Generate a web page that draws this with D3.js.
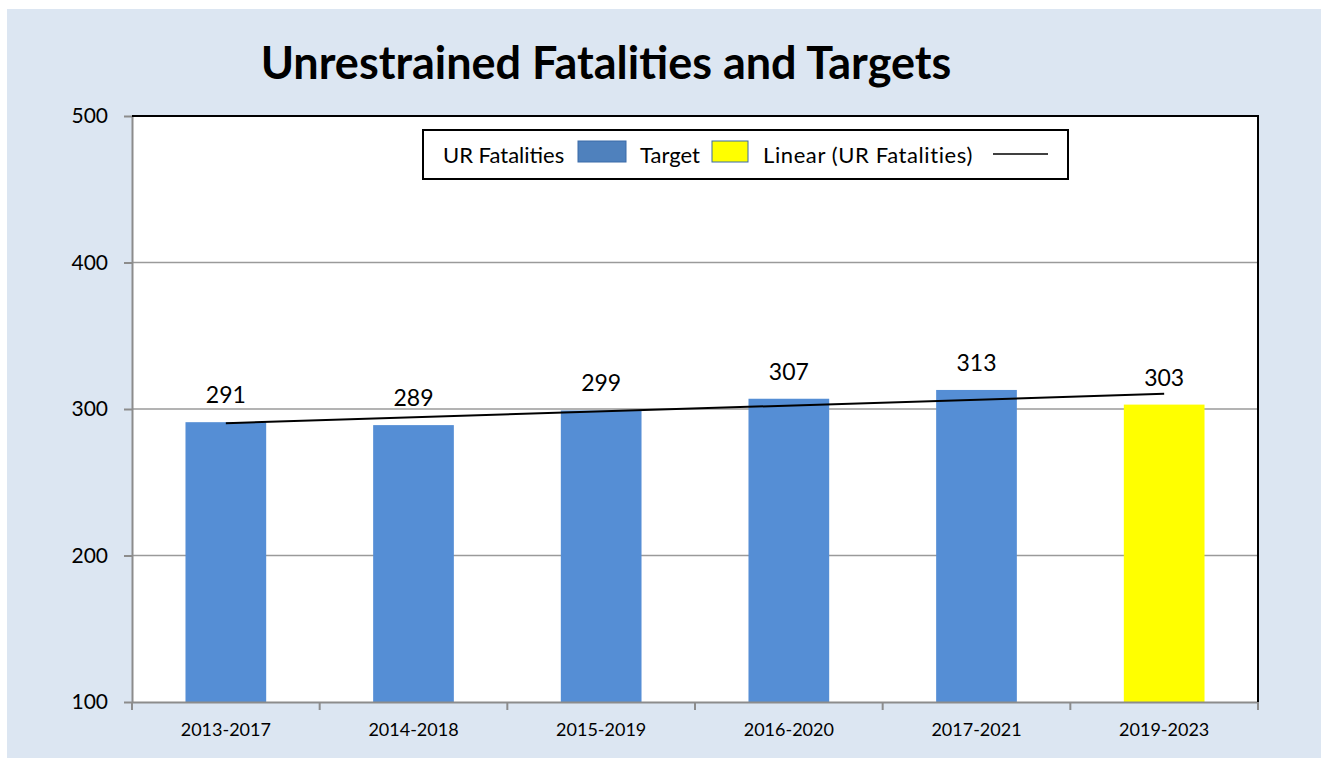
<!DOCTYPE html>
<html>
<head>
<meta charset="utf-8">
<script src="https://cdn.jsdelivr.net/npm/d3@7"></script>
<style>
  body { margin: 0; background: #fff; }
  text { font-family: Lato, "Open Sans", sans-serif; fill: #000; }
</style>
</head>
<body>
<div id="chart"></div>
<script>
const periods = ["2013-2017", "2014-2018", "2015-2019", "2016-2020", "2017-2021", "2019-2023"];
const values = [291, 289, 299, 307, 313, 303];
const kinds = ["UR Fatalities", "UR Fatalities", "UR Fatalities", "UR Fatalities", "UR Fatalities", "Target"];
const y_ticks = [100, 200, 300, 400, 500];

const width = 1321, height = 758;
const plot = { left: 132, top: 116, right: 1258, bottom: 702 };

const svg = d3.select("#chart").append("svg")
  .attr("width", width)
  .attr("height", height);

svg.append("rect")
  .attr("x", 7).attr("y", 9)
  .attr("width", width - 7).attr("height", height - 9)
  .attr("fill", "#dce6f2");

svg.append("text")
  .attr("x", 606).attr("y", 79)
  .attr("text-anchor", "middle")
  .style("font-size", "45px")
  .style("font-weight", "bold")
  .text("Unrestrained Fatalities and Targets");

const x = d3.scaleBand()
  .domain(periods)
  .range([plot.left, plot.right])
  .paddingInner(0.57)
  .paddingOuter(0.285);

const y = d3.scaleLinear()
  .domain([100, 500])
  .range([plot.bottom, plot.top]);

svg.append("rect")
  .attr("x", plot.left).attr("y", plot.top)
  .attr("width", plot.right - plot.left).attr("height", plot.bottom - plot.top)
  .attr("fill", "#fff");

// gridlines
svg.append("g")
  .selectAll("line")
  .data(y_ticks.slice(1, -1))
  .join("line")
  .attr("x1", plot.left).attr("x2", plot.right)
  .attr("y1", d => y(d)).attr("y2", d => y(d))
  .attr("stroke", "#9a9a9a")
  .attr("stroke-width", 1.5);

// bars
svg.append("g")
  .selectAll("rect")
  .data(periods)
  .join("rect")
  .attr("x", d => x(d))
  .attr("width", x.bandwidth())
  .attr("y", (d, i) => y(values[i]))
  .attr("height", (d, i) => y(100) - y(values[i]))
  .attr("fill", (d, i) => kinds[i] == "Target" ? "#ffff00" : "#558ed5");

// value labels
svg.append("g")
  .selectAll("text")
  .data(periods)
  .join("text")
  .attr("x", d => x(d) + x.bandwidth() / 2)
  .attr("y", (d, i) => y(values[i]) - 19)
  .attr("text-anchor", "middle")
  .style("font-size", "23px")
  .text((d, i) => values[i]);

// linear trend through all points
const n = values.length;
const mx = d3.mean(d3.range(n)), my = d3.mean(values);
const slope = d3.sum(values, (v, i) => (i - mx) * (v - my)) / d3.sum(d3.range(n), i => (i - mx) * (i - mx));
const icpt = my - slope * mx;
const cx = i => x(periods[i]) + x.bandwidth() / 2;
svg.append("line")
  .attr("x1", cx(0)).attr("y1", y(icpt))
  .attr("x2", cx(n - 1)).attr("y2", y(icpt + slope * (n - 1)))
  .attr("stroke", "#000")
  .attr("stroke-width", 2);

// axes
const yAxis = svg.append("g")
  .attr("transform", `translate(${plot.left},0)`)
  .call(d3.axisLeft(y).tickValues(y_ticks).tickSize(8).tickPadding(16).tickSizeOuter(0));
yAxis.select(".domain").attr("stroke", "#8c8c8c").attr("stroke-width", 2);
yAxis.selectAll(".tick line").attr("stroke", "#8c8c8c").attr("stroke-width", 2);
yAxis.selectAll("text").style("font-size", "21px").attr("font-family", null);

const xAxis = svg.append("g")
  .attr("transform", `translate(0,${plot.bottom})`)
  .call(d3.axisBottom(x).tickSize(0).tickPadding(21));
xAxis.select(".domain").attr("stroke", "#8c8c8c").attr("stroke-width", 2);
xAxis.selectAll("text").style("font-size", "18px").attr("font-family", null);

// tick marks between categories
const edges = periods.map(p => x(p) - x.step() * x.paddingInner() / 2).concat([plot.right]);
svg.append("g")
  .selectAll("line")
  .data(edges)
  .join("line")
  .attr("x1", d => d).attr("x2", d => d)
  .attr("y1", plot.bottom).attr("y2", plot.bottom + 8)
  .attr("stroke", "#8c8c8c")
  .attr("stroke-width", 2);

// top and right border
svg.append("path")
  .attr("d", `M${plot.left},${plot.top}H${plot.right}V${plot.bottom}`)
  .attr("fill", "none")
  .attr("stroke", "#000")
  .attr("stroke-width", 2);

// legend
const lg = svg.append("g");
lg.append("rect")
  .attr("x", 423).attr("y", 130)
  .attr("width", 645).attr("height", 49)
  .attr("fill", "#fff")
  .attr("stroke", "#000")
  .attr("stroke-width", 2);
lg.append("text").attr("x", 443).attr("y", 163).style("font-size", "22px").text("UR Fatalities");
lg.append("rect").attr("x", 578).attr("y", 141).attr("width", 48).attr("height", 21)
  .attr("fill", "#4f81bd").attr("stroke", "#3a6aa8");
lg.append("text").attr("x", 640).attr("y", 163).style("font-size", "22px").text("Target");
lg.append("rect").attr("x", 712).attr("y", 141).attr("width", 36).attr("height", 21)
  .attr("fill", "#ffff00").attr("stroke", "#3a6aa8");
lg.append("text").attr("x", 763).attr("y", 163).style("font-size", "22px")
  .style("letter-spacing", "0.6px").text("Linear (UR Fatalities)");
lg.append("line").attr("x1", 993).attr("x2", 1048).attr("y1", 154).attr("y2", 154)
  .attr("stroke", "#000").attr("stroke-width", 1.5);
</script>
</body>
</html>
